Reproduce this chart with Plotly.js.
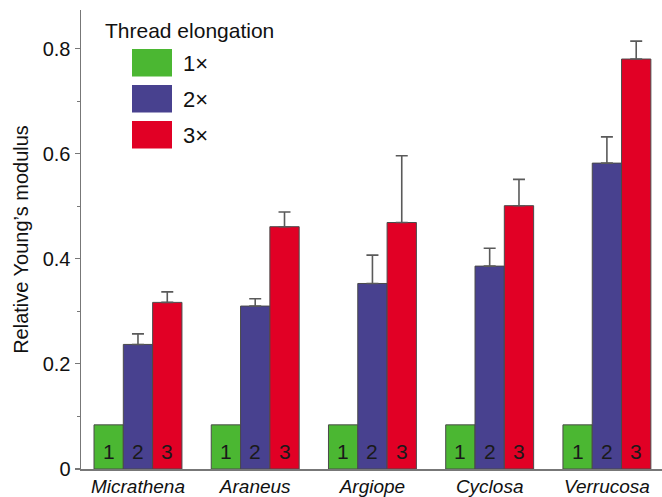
<!DOCTYPE html>
<html>
<head>
<meta charset="utf-8">
<script src="https://cdn.plot.ly/plotly-3.0.1.min.js"></script>
<style>html,body{margin:0;padding:0;background:#fff;}#chart{width:662px;height:497px;}</style>
</head>
<body>
<div id="chart"></div>
<script>
var species = ['Micrathena', 'Araneus', 'Argiope', 'Cyclosa', 'Verrucosa'];
var seriesNames = ['1\u00d7', '2\u00d7', '3\u00d7'];
var barLabels = ['1', '2', '3'];
var values1x = [0.084, 0.084, 0.084, 0.084, 0.084];
var values2x = [0.237, 0.310, 0.353, 0.386, 0.582];
var values3x = [0.317, 0.461, 0.469, 0.501, 0.780];
var err2x = [0.020, 0.014, 0.054, 0.034, 0.050];
var err3x = [0.020, 0.028, 0.127, 0.050, 0.034];
var yTicks = [0, 0.2, 0.4, 0.6, 0.8];
var yTickText = ['0', '0.2', '0.4', '0.6', '0.8'];

var colors = ['#4bb732', '#48418f', '#e10025'];
var font = 'Liberation Sans, Arial, Helvetica, sans-serif';

function mk(i, vals, errs) {
  var t = {
    type: 'bar', x: species, y: vals, name: seriesNames[i],
    marker: {color: colors[i], line: {color: '#4a4a4a', width: 1}},
    hoverinfo: 'skip'
  };
  if (errs) {
    t.error_y = {type: 'data', array: errs, arrayminus: errs.map(function(){return 0;}),
      symmetric: false, color: '#5a5a5a', thickness: 1.6, width: 6};
  }
  return t;
}

var data = [mk(0, values1x, null), mk(1, values2x, err2x), mk(2, values3x, err3x)];

var shapes = [];
var annotations = [{
  xref: 'paper', yref: 'paper', x: (103 - 81) / 581, y: (469 - 31) / 459,
  xanchor: 'left', yanchor: 'middle', showarrow: false,
  text: 'Thread elongation', font: {family: font, size: 21, color: '#111'}
}];
for (var i = 0; i < 3; i++) {
  var swTop = 49 + i * 36;
  shapes.push({type: 'rect', xref: 'paper', yref: 'paper',
    x0: (132 - 81) / 581, x1: (172 - 81) / 581,
    y0: (469 - swTop - 27.5) / 459, y1: (469 - swTop) / 459,
    fillcolor: colors[i], line: {width: 0}});
  annotations.push({xref: 'paper', yref: 'paper', x: (181 - 81) / 581, y: (469 - swTop - 14) / 459,
    xanchor: 'left', yanchor: 'middle', showarrow: false,
    text: seriesNames[i], font: {family: font, size: 22, color: '#111'}});
}
// numbers at the foot of each bar
var barStep = 29.3;
for (var s = 0; s < 3; s++) {
  for (var j = 0; j < species.length; j++) {
    annotations.push({xref: 'x', yref: 'y', x: species[j], y: 0,
      xshift: (s - 1) * barStep, yshift: 4, yanchor: 'bottom', xanchor: 'center',
      showarrow: false, text: barLabels[s],
      font: {family: font, size: 21, color: '#1a1a1a'}});
  }
}

var layout = {
  width: 662, height: 497,
  margin: {l: 81, r: 0, t: 10, b: 28},
  paper_bgcolor: '#fff', plot_bgcolor: '#fff',
  showlegend: false,
  barmode: 'group', bargap: 0.25, bargroupgap: 0,
  xaxis: {
    type: 'category', range: [-0.486, 4.47],
    showline: true, linecolor: '#777', linewidth: 1.5,
    ticks: '', ticklabelstandoff: 0,
    showgrid: false, zeroline: false,
    tickfont: {family: font, size: 19, color: '#111', style: 'italic'}
  },
  yaxis: {
    range: [0, 0.8733], showline: true, linecolor: '#777', linewidth: 1.5,
    tickmode: 'array', tickvals: yTicks, ticktext: yTickText,
    ticks: 'outside', ticklen: 5, tickcolor: '#777', tickwidth: 1.2,
    minor: {dtick: 0.1, ticks: 'outside', ticklen: 3, tickcolor: '#777', tickwidth: 1},
    showgrid: false, zeroline: false,
    tickfont: {family: font, size: 20, color: '#111'},
    title: {text: 'Relative Young\u2019s modulus', font: {family: font, size: 20, color: '#111'}, standoff: 8}
  },
  shapes: shapes,
  annotations: annotations
};

Plotly.newPlot('chart', data, layout, {displayModeBar: false, staticPlot: true});
</script>
</body>
</html>
